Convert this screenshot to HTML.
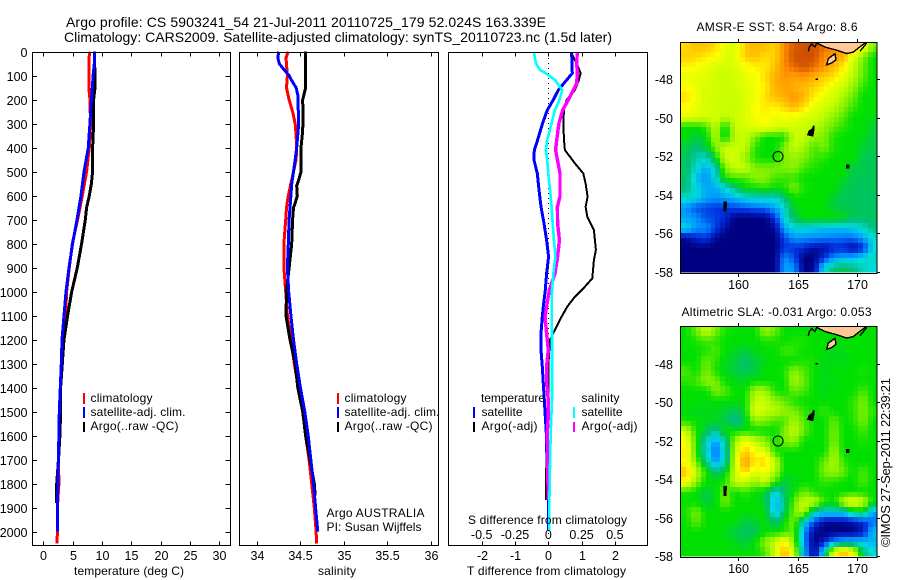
<!DOCTYPE html>
<html lang="en">
<head>
<meta charset="utf-8">
<title>Argo profile CS 5903241_54</title>
<style>
html,body{margin:0;padding:0;background:#fff;width:900px;height:580px;overflow:hidden}
svg{display:block;font-family:"Liberation Sans",sans-serif;font-size:12px;fill:#000}
text{fill:#000;stroke:none}
.frame{fill:none;stroke:#000;stroke-width:1;shape-rendering:crispEdges}
</style>
</head>
<body>
<svg id="fig" xmlns="http://www.w3.org/2000/svg" width="900" height="580" viewBox="0 0 900 580">
  <defs>
    <clipPath id="clip-sst"><rect x="681" y="42.5" width="196" height="230"/></clipPath>
    <clipPath id="clip-sla"><rect x="681" y="326.5" width="196" height="230"/></clipPath>
  </defs>
  <rect width="900" height="580" fill="#fff"/>

  <text x="66" y="27" font-size="14" textLength="480">Argo profile: CS 5903241_54 21-Jul-2011 20110725_179 52.024S 163.339E</text>
  <text x="64" y="42" font-size="14" textLength="548">Climatology: CARS2009. Satellite-adjusted climatology: synTS_20110723.nc (1.5d later)</text>

  <g id="layer-temp"></g>
  <g id="layer-sal"></g>
  <g id="layer-diff"></g>
  <g id="layer-sst"></g>
  <g id="layer-sla"></g>

  <rect class="frame" x="32.5" y="52.5" width="198" height="493"/>
  <rect class="frame" x="239.5" y="52.5" width="199" height="493"/>
  <rect class="frame" x="448.5" y="52.5" width="199" height="493"/>

  <text x="74" y="575" textLength="110">temperature (deg C)</text>
  <text x="318" y="575" textLength="38">salinity</text>
  <text x="467" y="575" textLength="159">T difference from climatology</text>
  <text x="468" y="524" textLength="159">S difference from climatology</text>

  <g>
    <rect x="83" y="393" width="2" height="11" fill="#ff0000"/>
    <rect x="83" y="407" width="2" height="11" fill="#0000ff"/>
    <rect x="83" y="422" width="2" height="10" fill="#000"/>
    <text x="90.5" y="402" textLength="62">climatology</text>
    <text x="90.5" y="416" textLength="95">satellite-adj. clim.</text>
    <text x="90.5" y="430" textLength="88">Argo(..raw -QC)</text>
  </g>
  <g>
    <rect x="337" y="393" width="2" height="11" fill="#ff0000"/>
    <rect x="337" y="407" width="2" height="11" fill="#0000ff"/>
    <rect x="337" y="422" width="2" height="10" fill="#000"/>
    <text x="344.5" y="402" textLength="62">climatology</text>
    <text x="344.5" y="416" textLength="95">satellite-adj. clim.</text>
    <text x="344.5" y="430" textLength="88">Argo(..raw -QC)</text>
  </g>
  <text x="326.5" y="517" textLength="98">Argo AUSTRALIA</text>
  <text x="326.5" y="531" textLength="95">PI: Susan Wijffels</text>
  <g>
    <text x="481" y="402" textLength="64">temperature</text>
    <text x="581.5" y="402" textLength="38">salinity</text>
    <rect x="473" y="407" width="2" height="11" fill="#0000ff"/>
    <rect x="473" y="422" width="2" height="10" fill="#000"/>
    <rect x="573" y="407" width="2" height="11" fill="#00ffff"/>
    <rect x="573" y="422" width="2" height="10" fill="#ff00ff"/>
    <text x="481.5" y="416" textLength="41">satellite</text>
    <text x="481.5" y="430" textLength="56">Argo(-adj)</text>
    <text x="581.5" y="416" textLength="41">satellite</text>
    <text x="581.5" y="430" textLength="56">Argo(-adj)</text>
  </g>

  <text x="696.5" y="31" textLength="161">AMSR-E SST: 8.54 Argo: 8.6</text>
  <text x="681.5" y="316" textLength="190">Altimetric SLA: -0.031 Argo: 0.053</text>
  <text transform="translate(890,547) rotate(-90)" font-size="13" textLength="169">©IMOS 27-Sep-2011 22:39:21</text>

<script>
// ---- shared axis data ----
const depthTicks = [0,100,200,300,400,500,600,700,800,900,1000,1100,1200,1300,1400,1500,1600,1700,1800,1900,2000];
const tempTicks = [0,5,10,15,20,25,30];
const salTicks = [34,34.5,35,35.5,36];
const tDiffTicks = [-2,-1,0,1,2];
const sDiffTicks = [-0.5,-0.25,0,0.25,0.5];
const sDiffLabels = ['-0.5','-0.25','0','0.25','0.5'];
const lonTicks = [160,165,170];
const latTicks = [-48,-50,-52,-54,-56,-58];

// ---- temperature panel ----
const tempClimDepth = [0,25,50,100,165,170,300,400,500,600,700,800,900,1000,1100,1200,1300,1400,1500,1600,1700,1800,1900,2000,2050];
const tempClimValues = [7.96,7.8,7.79,7.79,7.79,7.9,8.08,7.85,7.39,6.66,5.86,4.95,4.44,3.98,3.8,3.41,3.13,2.96,2.84,2.84,2.6,2.67,2.4,2.4,2.33];
const tempSatDepth = [0,50,100,150,200,300,400,500,600,700,800,900,1000,1100,1200,1300,1400,1500,1600,1700,1800,1900,2000];
const tempSatValues = [8.7,8.7,8.5,8.36,8.2,7.96,7.68,6.94,6.43,5.75,5.0,4.38,3.87,3.53,3.19,3.07,2.9,2.73,2.67,2.56,2.5,2.39,2.39];
const tempArgoDepth = [0,100,150,200,300,400,500,550,600,650,700,800,900,1000,1100,1200,1300,1400,1500,1600,1700,1800,1880];
const tempArgoValues = [8.7,8.82,8.82,8.59,8.59,8.42,8.42,8.2,7.85,7.39,7.17,6.54,5.8,4.84,4.15,3.53,3.24,2.96,2.96,2.84,2.6,2.28,2.28];

// ---- salinity panel ----
const salClimDepth = [0,25,100,150,200,250,300,350,400,450,500,550,600,650,700,750,800,900,950,1000,1100,1200,1300,1400,1500,1600,1700,1800,1900,2000,2050];
const salClimValues = [34.36,34.334,34.35,34.34,34.37,34.41,34.44,34.45,34.457,34.45,34.42,34.39,34.36,34.34,34.33,34.32,34.31,34.31,34.32,34.33,34.35,34.39,34.43,34.476,34.526,34.56,34.6,34.63,34.66,34.68,34.687];
const salSatDepth = [0,25,50,70,100,120,150,180,250,320,400,450,500,550,600,650,700,800,900,1000,1100,1200,1300,1400,1500,1600,1700,1800,1900,2000];
const salSatValues = [34.25,34.24,34.257,34.3,34.37,34.4,34.45,34.47,34.476,34.476,34.457,34.44,34.42,34.4,34.39,34.38,34.37,34.36,34.35,34.365,34.39,34.42,34.457,34.5,34.55,34.59,34.62,34.65,34.675,34.7];
const salArgoDepth = [0,150,180,200,300,350,400,500,530,560,600,630,650,700,800,900,1000,1100,1200,1300,1400,1500,1600,1700,1800,1850];
const salArgoValues = [34.56,34.56,34.54,34.526,34.53,34.52,34.507,34.507,34.484,34.457,34.464,34.44,34.42,34.41,34.4,34.37,34.34,34.334,34.38,34.44,34.47,34.526,34.56,34.61,34.66,34.67];

// ---- difference panel ----
const diffTSatDepth = [2,90,118,160,201,243,298,368,410,451,507,576,646,715,785,854,924,993,1062,1104,1173,1243,1312,1382,1451,1520,1590,1660,1729,1798,1868,1937,1993];
const diffTSatValues = [0.7,0.72,0.55,0.3,0.15,-0.03,-0.17,-0.32,-0.42,-0.43,-0.33,-0.28,-0.22,-0.13,-0.05,0.01,-0.05,-0.09,-0.15,-0.18,-0.22,-0.22,-0.18,-0.15,-0.12,-0.09,-0.06,-0.05,-0.02,-0.02,0,0,0.01];
const diffTArgoDepth = [2,48,90,118,160,201,243,298,368,410,437,465,507,549,604,646,687,743,785,826,868,944,979,1021,1062,1104,1173,1201,1243,1312,1424,1520,1590,1770,1868];
const diffTArgoValues = [0.68,0.85,0.97,0.92,0.8,0.55,0.47,0.45,0.47,0.5,0.65,0.8,1.05,1.12,1.18,1.12,1.17,1.37,1.4,1.43,1.37,1.32,1.1,0.8,0.57,0.4,0.15,0.05,0.03,0,0,0,-0.03,-0.07,-0.07];
const diffSSatDepth = [2,48,76,90,118,160,201,243,298,368,410,451,507,576,646,715,785,854,924,993,1062,1173,1312,1451,1590,1729,1868,1993];
const diffSSatValues = [-0.108,-0.093,-0.063,-0.018,0.05,0.105,0.083,0.05,0.025,-0.008,-0.018,-0.008,0,0.013,0.025,0.033,0.043,0.053,0.038,0.028,0.025,0.028,0.028,0.028,0.018,0.013,0.008,0.008];
const diffSArgoDepth = [2,48,90,132,160,201,243,298,368,410,451,507,576,604,646,715,785,854,924,993,1062,1104,1173,1243,1312,1382,1451,1520,1590,1660,1729,1868];
const diffSArgoValues = [0.218,0.213,0.218,0.213,0.188,0.15,0.108,0.08,0.063,0.055,0.068,0.088,0.088,0.088,0.068,0.07,0.083,0.07,0.05,0.008,-0.013,-0.025,-0.013,0,-0.013,-0.013,0,0,-0.008,-0.005,-0.005,0];

// ---- map grids (colour-scale index read by eye; 0 navy ... 11 dark orange) ----
const sstGrid = [
[8.6,9,8.9,8.6,7.5,7.3,8.8,9.2,9,8.7,10,10.8,11,11,10.5,10,9.5,9,8,6],
[8.8,8.6,8.3,8,7.5,7.4,8.8,9,8.5,8.7,10,11,11,11,10,9.8,9.2,7.5,6,5],
[8.1,8,7.6,7.3,7.2,7.3,7.8,8.2,8.3,9,10,10.5,11,10.5,9.8,9,8.2,7,5.8,5],
[7.6,7.5,7.4,7.2,7,7.2,7.5,7.8,8.5,9.3,9.8,9.6,9.8,9.3,8.8,8.5,7.5,6.8,5.7,5],
[8,7.6,7.3,7.2,7,7.2,7.4,7.8,8.2,9.3,9.6,9.3,9,8.7,8.3,7.5,7,6.3,5.3,5],
[8.5,7.8,7.2,7.2,7,7,7.3,7.6,8.5,9,9.3,9.8,9.2,8.3,7.6,7.2,6.5,5.8,5,5],
[8,7.6,7.2,7.2,7,7,7.3,8,8.3,8.2,8.6,9.2,8.5,7.5,7.2,6.8,6,5.5,5,5],
[7.6,7.4,7.2,7.2,6.9,7,7.4,7.8,8.2,7.6,7.8,7.8,7.3,7.2,6.8,6.2,5.6,5,5,4.8],
[5,5,5.4,7,4.8,7,7.2,7.6,7.8,7.5,7.2,7.2,7,6.8,6.3,5.7,5.3,5,5,4.6],
[5,4.5,4.8,6.8,4.6,6.8,7,6,5,5,5,7,7,6.3,6,5.2,5,5,4.8,4.5],
[4.5,4,4.5,6,7,7,7,5.3,5,5,6,7,6.5,5.5,6,5.2,5,5,4.6,4.4],
[4.3,3.5,3.2,4.8,7,7.2,6.3,5.2,5,5,6,6.3,6,5.5,5.3,5,5,5,4.4,4.3],
[4.2,3.2,2.3,3.2,6,7,7,6,6,6,6,6.2,5.5,5.2,5,5,5,4.5,4.3,4.3],
[4.2,2.5,2,3,5.2,5.5,5.5,6.2,6.2,5.5,5.4,5.4,5,5,5,5,4.8,4.3,4.3,4.3],
[4,3,2.3,2.2,3,4,5,5,5.3,5,5.2,6,5.2,5,5,5,4.4,4.3,4.2,4.3],
[3.2,3,2.2,2,2.2,2.4,3,3.2,3.2,3.2,4,5,5,5,5,4.5,4.3,4.3,4.2,4.2],
[2,1.3,1.2,1,1,1.2,1.3,1.5,1.6,2.2,3,4.8,5,5,5,4.5,4.3,4.3,4.2,4.2],
[2.2,2,1.3,1.2,0.8,0,0,0,0,1,3,4.2,5,5,5,5,4.8,4.3,4.2,4.2],
[3,2,2,1.2,0.3,0,0,0,0,0.2,2.2,3,3,2.8,2.6,2.6,2.6,2.8,3.2,4],
[0.2,0.8,1,0.2,0,0,0,0,0,0,1.2,2,2,1.9,1.8,1.7,1.6,1.6,2.2,3],
[0,0,0,0,0,0,0,0,0,0,1,1,0.8,0.3,0.3,0.8,0.8,0.2,0.8,3],
[0,0,0,0,0,0,0,0,0,0,2,1.3,0,0,1,2,2.3,2.4,3,3.2],
[0,0,0,0,0,0,0,0,0,0,2.2,2,0,0.2,3,4,4.3,4,3.3,3]
];
const slaGrid = [
[5,5.8,7,6,5.2,5,5,5,6.3,5.8,5,5,5,5,5,5,5,5,5,5],
[5,5.2,5.5,5.4,5,5,5,5,5.2,5.2,5,5.2,5.2,5,5,5,5,5,5,5],
[5,5,5.2,5.6,5,4.8,4.5,4.8,5,5,5.5,5.4,5,5,5,4.8,4.8,5,5,5],
[5,5,5.8,5.4,4.8,4.5,4,4.5,4.8,5,5,5,5.2,5.2,4.8,4.8,4.8,5,5,5],
[5.6,5,6,5.2,4.8,4.5,4.2,4.5,5,5,5.2,6.2,5.6,5,4.8,5,5,5,5.2,5],
[5.3,5.5,6.2,6,5,4.8,4.8,5,5,5,5,6.5,5.8,5,4.8,4.8,5,5,5,5],
[5,5,5,6,5.7,5,5,6.5,6.5,5.2,5,5.8,5.5,5,4.8,5,5,5,5.6,5],
[5,5,4.9,5,5,5,5,7,7,6.2,5.8,5.2,5,5,5,5,5,5.3,6,5],
[4.8,4.8,4.8,4.8,4.6,4.2,4.8,7.5,7,6.8,6.2,6,5.4,5,5.4,5,5,5.3,6,5.3],
[5.2,5,4.8,4.8,4.4,3.6,4.6,6.2,6,5.5,5.5,6.5,5.6,5,5,5.8,5,5.2,6,5],
[7,5.2,4.4,3.6,5,5,5,5,5,5,6,7,5.8,5,5,6,5,5,5.5,5],
[8,5.3,3.3,2,3.4,6.5,8,7,6.2,5.2,5.8,6.2,5,5,5,6,5,5,5.2,5],
[8.3,5.3,3.2,1.4,3.2,6.8,9,8,7.5,5.2,5,5,5,5,5,6.4,5,5,5,5],
[8,6,3.8,2,3.2,7,9.8,8.3,8.8,7,5,5,5,5,5.8,6.6,5.3,5,5,5],
[9,7,5.2,4,4.6,7,8.8,7.4,7.8,6.6,5,5,5,5,6,6.3,5.8,5,5.6,5],
[8,6.2,5,5,5.2,7,7,6.2,7,5.4,4.4,4.8,5,5,5.4,5.2,5,5,5.6,5],
[5.2,5,4.4,4.8,5.8,5,5.4,5,4.6,3,4.2,5,5.8,5.2,5,5,5,5,5,5],
[5,5,4.4,4.8,6,5,5,5,4.6,2.2,3.8,5.8,7,7,5.4,5,7,8,7,5],
[5.2,6,5,5,5,5,5,5,5,2.4,4,6,6.8,3.4,3,3,3,4.2,4.6,2.2],
[5,5.8,5,5,5,5,4.4,4.6,5,4,5,6,3,1.2,0.3,0.2,0.2,0.4,0.8,1.6],
[5,5,5,5,4.8,4.4,4.2,4.2,5,5,5.2,5.8,2,0.2,0,0,0,0,0.6,2.6],
[5,5,5,5,5,4.8,4.4,5,6.2,7,8.4,6,2,0,0.6,2,2.6,2.6,2.6,2.4],
[5,5,5,5,5,5,5,5,5.5,7,9.4,7,2.4,0,3,8,9,8,4,3]
];
const colorStops = ['#000082','#0032e0','#0096ff','#00dcdc','#00be78','#00e000','#80f000','#c8ff00','#ffff00','#ffc000','#ff8c00','#d05000'];

// ---- geography (lon/lat) ----
const mainlandLon = [166.5,166.59,166.87,167.29,167.56,168.13,168.55,169.1,169.66,170.08,170.65,170.9];
const mainlandLat = [-45.9,-46.13,-46.22,-46.34,-46.39,-46.48,-46.56,-46.68,-46.6,-46.39,-46.13,-45.9];
const westCoastLon = [165.88,165.97,166.17,166.45,166.59];
const westCoastLat = [-46.56,-46.35,-46.18,-46.34,-46.13];
const eastCoastLon = [170.23,170.79];
const eastCoastLat = [-46.56,-46.13];
const stewartLon = [167.43,167.56,168.13,168.21,167.85];
const stewartLat = [-47.26,-46.94,-46.68,-47.0,-47.17];
const aucklandLon = [165.85,165.95,166.2,166.35,166.35,166.25];
const aucklandLat = [-50.9,-50.7,-50.62,-50.42,-50.6,-50.95];
const campbellLon = [169.12,169.3,169.3,169.12];
const campbellLat = [-52.47,-52.47,-52.62,-52.62];
const macquarieLon = [158.83,158.98,158.95,158.83];
const macquarieLat = [-54.4,-54.4,-54.85,-54.85];
const snaresLon = [166.5,166.68];
const snaresLat = [-48.02,-48.02];
const profileLon = 163.339;
const profileLat = -52.024;

// ---- scales ----
const yDepth = d => 51.7 + d * 0.24;
const xTemp = v => 43.3 + v * 5.86;
const xSal = v => 257 + (v - 34) * 86.85;
const xT = v => 548.3 + v * 33.3;
const xS = v => 548.3 + v * 133.2;
const xLon = v => 738.3 + (v - 160) * 11.9;
const ySst = v => 79 + (-48 - v) * 19.25;
const ySla = v => 363.5 + (-48 - v) * 19.25;

const NS = 'http://www.w3.org/2000/svg';
function mk(tag, attrs, parent, txt) {
  const el = document.createElementNS(NS, tag);
  for (const k in attrs) el.setAttribute(k, attrs[k]);
  if (txt !== undefined) el.textContent = txt;
  parent.appendChild(el);
  return el;
}
function hexRgb(h) { return [parseInt(h.slice(1,3),16), parseInt(h.slice(3,5),16), parseInt(h.slice(5,7),16)]; }

function drawProfile(parent, name, depths, vals, sx, color, w) {
  const pts = depths.map((d, i) => sx(vals[i]).toFixed(1) + ',' + yDepth(d).toFixed(1)).join(' ');
  const el = mk('polyline', {points: pts, fill: 'none', stroke: color, 'stroke-width': w, 'shape-rendering': 'crispEdges', 'stroke-linejoin': 'round'}, parent);
  
  
}
function bottomTicks(parent, ticks, labels, sx, prefix, top, bottom, labelY) {
  ticks.forEach((t, i) => {
    const x = Math.round(sx(t)) + 0.5;
    const a = mk('line', {x1: x, x2: x, y1: top, y2: top + 4, stroke: '#000', 'shape-rendering': 'crispEdges'}, parent);
    
    
    const b = mk('line', {x1: x, x2: x, y1: bottom - 4, y2: bottom, stroke: '#000', 'shape-rendering': 'crispEdges'}, parent);
    
    
    const l = mk('text', {x: x, y: labelY, 'text-anchor': 'middle', 'font-size': 12.5}, parent, labels[i]);
    
    
  });
}

// temperature panel
const gTemp = document.getElementById('layer-temp');
drawProfile(gTemp, 'temperature-climatology-line', tempClimDepth, tempClimValues, xTemp, '#ff0000', 3);
drawProfile(gTemp, 'temperature-argo-line', tempArgoDepth, tempArgoValues, xTemp, '#000000', 3);
drawProfile(gTemp, 'temperature-satellite-line', tempSatDepth, tempSatValues, xTemp, '#0000ff', 3);
bottomTicks(gTemp, tempTicks, tempTicks.map(String), xTemp, 'temperature', 52.5, 545.5, 560);
depthTicks.forEach(d => {
  const y = Math.round(yDepth(d)) + 0.5;
  const a = mk('line', {x1: 32.5, x2: 37, y1: y, y2: y, stroke: '#000', 'shape-rendering': 'crispEdges'}, gTemp);
  
  
  const b = mk('line', {x1: 225.5, x2: 230.5, y1: y, y2: y, stroke: '#000', 'shape-rendering': 'crispEdges'}, gTemp);
  
  
  const l = mk('text', {x: 27.5, y: y + 4.5, 'text-anchor': 'end', 'font-size': 12.5}, gTemp, String(d));
  
  
});

// salinity panel
const gSal = document.getElementById('layer-sal');
drawProfile(gSal, 'salinity-climatology-line', salClimDepth, salClimValues, xSal, '#ff0000', 3);
drawProfile(gSal, 'salinity-argo-line', salArgoDepth, salArgoValues, xSal, '#000000', 3);
drawProfile(gSal, 'salinity-satellite-line', salSatDepth, salSatValues, xSal, '#0000ff', 3);
bottomTicks(gSal, salTicks, salTicks.map(String), xSal, 'salinity', 52.5, 545.5, 560);

// difference panel
const gDiff = document.getElementById('layer-diff');
const zero = mk('line', {x1: xT(0), x2: xT(0), y1: 53, y2: 545, stroke: '#000', 'stroke-width': 1, 'stroke-dasharray': '1 4', 'shape-rendering': 'crispEdges'}, gDiff);


drawProfile(gDiff, 'diff-t-argo-line', diffTArgoDepth, diffTArgoValues, xT, '#000000', 2);
drawProfile(gDiff, 'diff-t-satellite-line', diffTSatDepth, diffTSatValues, xT, '#0000ff', 3);
drawProfile(gDiff, 'diff-s-argo-line', diffSArgoDepth, diffSArgoValues, xS, '#ff00ff', 3.4);
drawProfile(gDiff, 'diff-s-satellite-line', diffSSatDepth, diffSSatValues, xS, '#00ffff', 2.6);
bottomTicks(gDiff, tDiffTicks, tDiffTicks.map(String), xT, 't-diff', 52.5, 545.5, 560);
sDiffTicks.forEach((t, i) => {
  const l = mk('text', {x: xS(t), y: 539, 'text-anchor': 'middle', 'font-size': 12.5}, gDiff, sDiffLabels[i]);
  
  
});

// maps
function cellColor(v) {
  const i = Math.max(0, Math.min(colorStops.length - 2, Math.floor(v)));
  const f = Math.max(0, Math.min(1, v - i));
  const a = hexRgb(colorStops[i]), b = hexRgb(colorStops[i + 1]);
  return 'rgb(' + a.map((c, k) => Math.round(c + (b[k] - c) * f)).join(',') + ')';
}
function shaded(grid, r, c) {
  const rows = grid.length, cols = grid[0].length;
  const rr = Math.max(0, Math.min(rows - 1, r)), cc = Math.max(0, Math.min(cols - 1, c));
  const r0 = Math.floor(rr), c0 = Math.floor(cc);
  const r1 = Math.min(rows - 1, r0 + 1), c1 = Math.min(cols - 1, c0 + 1);
  const u = rr - r0, w = cc - c0;
  return (grid[r0][c0] * (1 - w) + grid[r0][c1] * w) * (1 - u) + (grid[r1][c0] * (1 - w) + grid[r1][c1] * w) * u;
}
function poly(parent, name, lons, lats, sy, fill, stroke, closed) {
  const pts = lons.map((lo, i) => xLon(lo).toFixed(1) + ',' + sy(lats[i]).toFixed(1)).join(' ');
  const el = mk(closed ? 'polygon' : 'polyline', {points: pts, fill: fill, stroke: stroke, 'stroke-width': 1.4, 'shape-rendering': 'crispEdges'}, parent);
  
  
}
function drawMap(layerId, clipId, prefix, grid, sy, left, top) {
  const g = document.getElementById(layerId);
  const clip = mk('g', {'clip-path': 'url(#' + clipId + ')'}, g);
  
  
  const cells = mk('g', {'shape-rendering': 'crispEdges'}, clip);
  
  
  const rows = grid.length, cols = grid[0].length;
  const sub = 2;
  const cw = 197 / (cols * sub), ch = 231 / (rows * sub);
  for (let r = 0; r < rows * sub; r++) {
    for (let c = 0; c < cols * sub; c++) {
      const x0 = Math.round(left + c * cw), x1 = Math.round(left + (c + 1) * cw);
      const y0 = Math.round(top + r * ch), y1 = Math.round(top + (r + 1) * ch);
      const v = shaded(grid, (r + 0.5) / sub - 0.5, (c + 0.5) / sub - 0.5);
      const cell = mk('rect', {x: x0, y: y0, width: x1 - x0, height: y1 - y0, fill: cellColor(v)}, cells);
      
      
    }
  }
  const land = '#ffc896';
  poly(clip, prefix + '-south-island-land', mainlandLon, mainlandLat, sy, land, '#000', true);
  poly(clip, prefix + '-west-coast', westCoastLon, westCoastLat, sy, 'none', '#000', false);
  poly(clip, prefix + '-east-coast', eastCoastLon, eastCoastLat, sy, 'none', '#000', false);
  poly(clip, prefix + '-stewart-island', stewartLon, stewartLat, sy, land, '#000', true);
  poly(clip, prefix + '-auckland-islands', aucklandLon, aucklandLat, sy, '#000', '#000', true);
  poly(clip, prefix + '-campbell-island', campbellLon, campbellLat, sy, '#000', '#000', true);
  poly(clip, prefix + '-macquarie-island', macquarieLon, macquarieLat, sy, '#000', '#000', true);
  poly(clip, prefix + '-snares-islands', snaresLon, snaresLat, sy, 'none', '#000', false);
  const circ = mk('circle', {cx: xLon(profileLon), cy: sy(profileLat), r: 5, fill: 'none', stroke: '#000', 'stroke-width': 1}, clip);
  
  
  const fr = mk('rect', {x: 680.5, y: top + 0.5, width: 196.5, height: 231, class: 'frame'}, g);
  
  
  lonTicks.forEach(t => {
    const x = Math.round(xLon(t)) + 0.5;
    const a = mk('line', {x1: x, x2: x, y1: top - 3, y2: top, stroke: '#000', 'shape-rendering': 'crispEdges'}, g);
    
    
    const b = mk('line', {x1: x, x2: x, y1: top + 232, y2: top + 235, stroke: '#000', 'shape-rendering': 'crispEdges'}, g);
    
    
    const l = mk('text', {x: x, y: top + 247, 'text-anchor': 'middle', 'font-size': 12.5}, g, String(t));
    
    
  });
  latTicks.forEach(t => {
    const y = Math.round(sy(t)) + 0.5;
    const a = mk('line', {x1: 877, x2: 880, y1: y, y2: y, stroke: '#000', 'shape-rendering': 'crispEdges'}, g);
    
    
    const l = mk('text', {x: 673, y: y + 4.5, 'text-anchor': 'end', 'font-size': 12.5}, g, String(t));
    
    
  });
}
drawMap('layer-sst', 'clip-sst', 'sst', sstGrid, ySst, 681, 42);
drawMap('layer-sla', 'clip-sla', 'sla', slaGrid, ySla, 681, 326);
</script>
</svg>
</body>
</html>
